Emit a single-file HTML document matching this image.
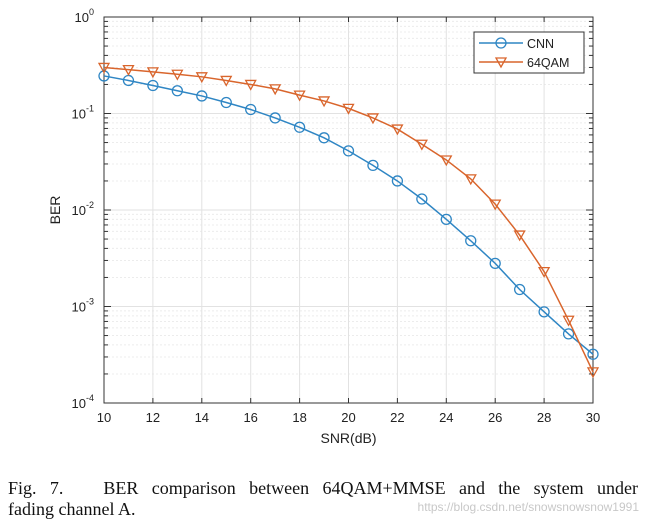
<!DOCTYPE html>
<html><head><meta charset="utf-8"><style>
body{margin:0;background:#fff;width:647px;height:527px;overflow:hidden;position:relative}
svg{position:absolute;left:0;top:0}
.cap{position:absolute;left:8px;top:478px;font-family:"Liberation Serif",serif;font-size:18px;color:#111;line-height:21px;width:630px}
.l1{display:block;white-space:nowrap;text-align:justify;text-align-last:justify}
.wm{position:absolute;right:8px;top:500px;font-family:"Liberation Sans",sans-serif;font-size:12px;color:#c8c8c8}
</style></head><body>
<svg id="chart" width="647" height="470" font-family="Liberation Sans, sans-serif"></svg>
<div class="cap"><span class="l1">Fig. 7.&nbsp;&nbsp; BER comparison between 64QAM+MMSE and the system under</span>fading channel A.</div>
<div class="wm">https://blog.csdn.net/snowsnowsnow1991</div>
<script>
const snr=[10,11,12,13,14,15,16,17,18,19,20,21,22,23,24,25,26,27,28,29,30];
const cnn=[0.245,0.22,0.195,0.172,0.152,0.13,0.11,0.09,0.072,0.056,0.041,0.029,0.020,0.013,0.008,0.0048,0.0028,0.0015,0.00088,0.00052,0.00032];
const qam=[0.3,0.285,0.27,0.255,0.24,0.22,0.2,0.18,0.155,0.135,0.113,0.09,0.069,0.048,0.033,0.021,0.0115,0.0055,0.0023,0.00072,0.00021];
const xTicks=[10,12,14,16,18,20,22,24,26,28,30];
const yExps=[0,-1,-2,-3,-4];
const L=104,R=593,T=17,B=403;
const X=v=>L+(v-10)/20*(R-L);
const Y=v=>T+(B-T)*(-Math.log10(v))/4;
const NS="http://www.w3.org/2000/svg";
const svg=document.getElementById('chart');
function mk(t,a,p){const e=document.createElementNS(NS,t);for(const k in a)e.setAttribute(k,a[k]);(p||svg).appendChild(e);return e;}
for(let d=0;d<4;d++)for(let m=2;m<=9;m++){const y=Y(m*Math.pow(10,-d-1));
const g=mk('line',{x1:L,x2:R,y1:y,y2:y,stroke:'#ececec','stroke-dasharray':'2,2'});

mk('line',{x1:L,x2:L+4,y1:y,y2:y,stroke:'#333'});mk('line',{x1:R,x2:R-4,y1:y,y2:y,stroke:'#333'});}
xTicks.forEach(t=>{const x=X(t);
const g=mk('line',{x1:x,x2:x,y1:T,y2:B,stroke:'#e2e2e2'});

mk('line',{x1:x,x2:x,y1:B,y2:B-5,stroke:'#333'});mk('line',{x1:x,x2:x,y1:T,y2:T+5,stroke:'#333'});
const tx=mk('text',{x:x,y:B+19,'text-anchor':'middle','font-size':13,fill:'#222'});tx.textContent=t;
});
yExps.forEach(e=>{const y=Y(Math.pow(10,e));
const g=mk('line',{x1:L,x2:R,y1:y,y2:y,stroke:'#e2e2e2'});

mk('line',{x1:L,x2:L+7,y1:y,y2:y,stroke:'#333'});mk('line',{x1:R,x2:R-7,y1:y,y2:y,stroke:'#333'});
const tx=mk('text',{x:L-10,y:y+5,'text-anchor':'end','font-size':13,fill:'#222'});tx.textContent='10';

const s=mk('tspan',{dy:-7,'font-size':9},tx);s.textContent=e;});
const ax=mk('rect',{x:L,y:T,width:R-L,height:B-T,fill:'none',stroke:'#333'});

function tri(x,y){return `${x-5},${y-4} ${x+5},${y-4} ${x},${y+5}`;}
function series(vals,color,marker,name){
const pl=mk('polyline',{points:vals.map((v,i)=>X(snr[i])+','+Y(v)).join(' '),fill:'none',stroke:color,'stroke-width':1.5});

vals.forEach((v,i)=>{const x=X(snr[i]),y=Y(v);let m;
if(marker==='o')m=mk('circle',{cx:x,cy:y,r:5,fill:'none',stroke:color,'stroke-width':1.3});
else m=mk('polygon',{points:tri(x,y),fill:'none',stroke:color,'stroke-width':1.3});
});}
series(cnn,'#2f86c4','o','cnn');
series(qam,'#d9652c','v','qam');
const xl=mk('text',{x:(L+R)/2,y:B+40,'text-anchor':'middle','font-size':14,fill:'#222'});xl.textContent='SNR(dB)';

const yl=mk('text',{x:0,y:0,'text-anchor':'middle','font-size':14,fill:'#222',transform:`translate(60,${(T+B)/2}) rotate(-90)`});yl.textContent='BER';

const lg=mk('g',{});
mk('rect',{x:474,y:32,width:110,height:41,fill:'#fff',stroke:'#333'},lg);
mk('line',{x1:479,x2:523,y1:43,y2:43,stroke:'#2f86c4','stroke-width':1.5},lg);
mk('circle',{cx:501,cy:43,r:5,fill:'none',stroke:'#2f86c4','stroke-width':1.3},lg);
let t1=mk('text',{x:527,y:48,'font-size':12.5,fill:'#222'},lg);t1.textContent='CNN';

mk('line',{x1:479,x2:523,y1:62,y2:62,stroke:'#d9652c','stroke-width':1.5},lg);
mk('polygon',{points:tri(501,62),fill:'none',stroke:'#d9652c','stroke-width':1.3},lg);
let t2=mk('text',{x:527,y:67,'font-size':12.5,fill:'#222'},lg);t2.textContent='64QAM';

</script>
</body></html>
